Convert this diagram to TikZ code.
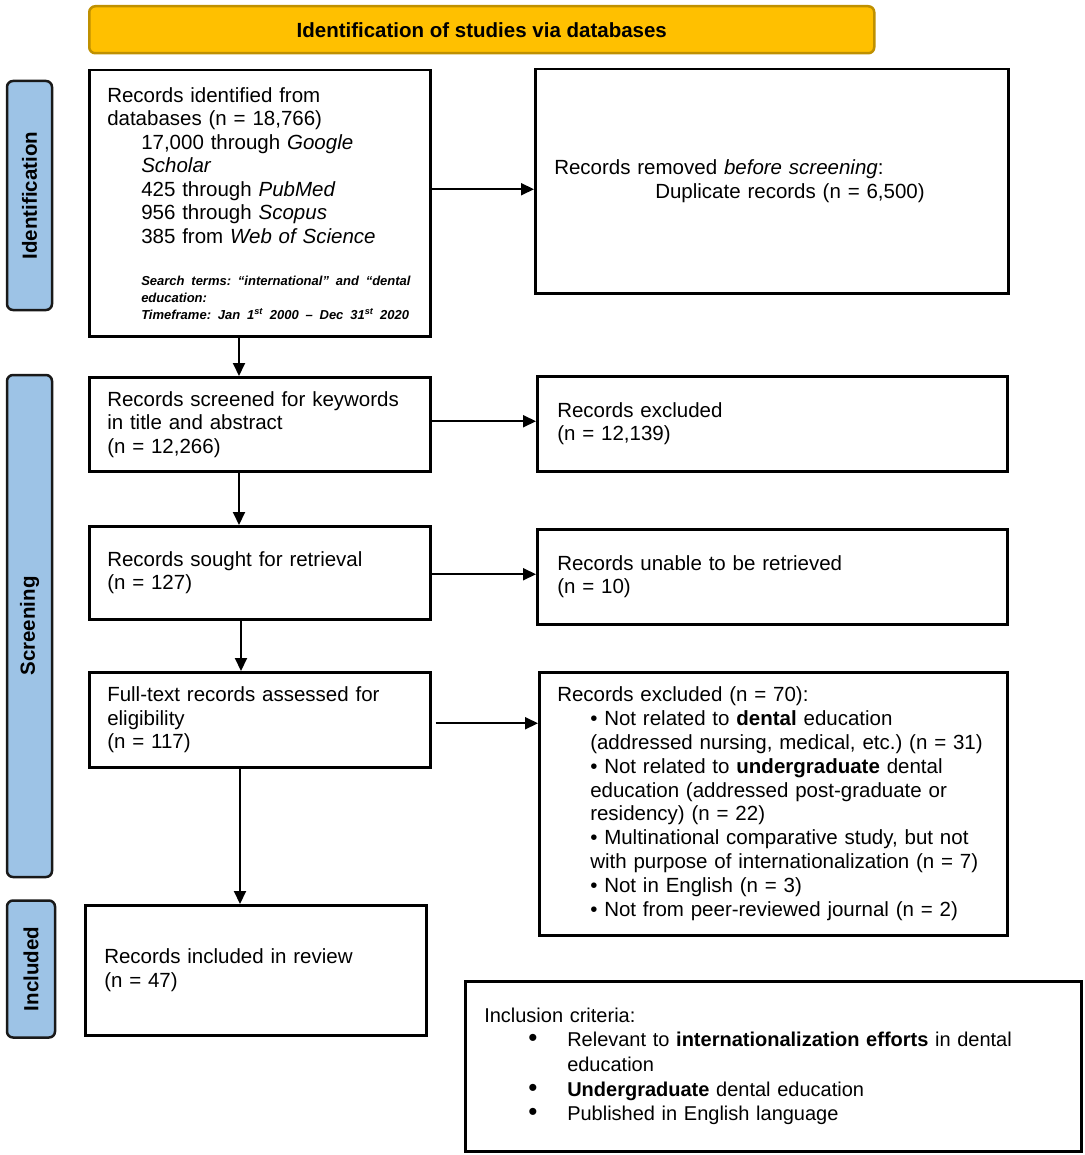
\documentclass[tikz,border=0pt]{standalone}
\usepackage{fontspec}
\setmainfont{Liberation Sans}
\usepackage{tikz}
\usetikzlibrary{arrows.meta, positioning}
\usepackage{xcolor}
\definecolor{bannergold}{HTML}{FFC000}
\definecolor{bannerline}{HTML}{BF9000}
\definecolor{phaseblue}{HTML}{9DC3E6}
\setlength{\parindent}{0pt}
\frenchspacing

\begin{document}
\begin{tikzpicture}[
    x=1pt, y=-1pt,
    box/.style={
        draw=black,
        fill=white,
        line width=2.5pt,
        align=left,
        anchor=north west,
        inner xsep=18pt,
        inner ysep=0pt,
        font=\fontsize{20.5}{23.5}\selectfont
    },
    phase/.style={
        draw=black!90,
        fill=phaseblue,
        rounded corners=6pt,
        line width=2.5pt,
        rotate=90,
        inner sep=0pt,
        font=\fontsize{20.5}{23.5}\selectfont\bfseries
    },
    banner/.style={
        draw=bannerline,
        fill=bannergold,
        rounded corners=6pt,
        line width=2.5pt,
        anchor=north west,
        inner sep=0pt,
        font=\fontsize{20.5}{23.5}\selectfont\bfseries
    },
    arrow/.style={
        -{Triangle[length=13pt, width=12pt]},
        line width=2pt,
        draw=black
    }
]
\useasboundingbox (0,0) rectangle (1084,1155);

% Header and phases
\node (head) [banner, minimum width=785pt, minimum height=47pt] at (88,5) {Identification of studies via databases};
\node (phid) [phase, minimum width=229pt, minimum height=45pt] at (29.5,195.5) {Identification};
\node (phscr) [phase, minimum width=502pt, minimum height=45pt] at (29.5,626) {Screening};
\node (phinc) [phase, minimum width=137pt, minimum height=48pt] at (31,969) {Included};

% Main column
\node (ident) [box, minimum width=341pt, minimum height=266pt, text width=305pt] at (88,69) {%
Records identified from\\
databases (n = 18,766)\par
{\leftskip=34pt
17,000 through \textit{Google}\\
\textit{Scholar}\\
425 through \textit{PubMed}\\
956 through \textit{Scopus}\\
385 from \textit{Web of Science}\par}
\vskip 25pt
{\leftskip=34pt\fontsize{13}{17}\selectfont\bfseries\itshape
\mbox{Search terms: “international” and “dental}\\
\mbox{education:}\\
\mbox{Timeframe: Jan 1\textsuperscript{st} 2000 – Dec 31\textsuperscript{st} 2020}\par}};
\node (screen) [box, minimum width=341pt, minimum height=94pt, text width=305pt] at (88,376) {%
Records screened for keywords\\
in title and abstract\\
(n = 12,266)};
\node (sought) [box, minimum width=341pt, minimum height=93pt, text width=305pt] at (88,525) {%
Records sought for retrieval\\
(n = 127)};
\node (full) [box, minimum width=341pt, minimum height=95pt, text width=305pt] at (88,671) {%
Full-text records assessed for\\
eligibility\\
(n = 117)};
\node (incl) [box, minimum width=341pt, minimum height=130pt, text width=303pt, inner xsep=19pt] at (84,904) {%
Records included in review\\
(n = 47)};

% Side column
\node (removed) [box, minimum width=473pt, minimum height=224pt, text width=435pt, inner xsep=19pt] at (534,68) {%
Records removed \textit{before screening}:\par
{\leftskip=101pt Duplicate records (n = 6,500)\par}};
\node (excl1) [box, minimum width=470pt, minimum height=95pt, text width=430pt, inner xsep=20pt] at (536,375) {%
Records excluded\\
(n = 12,139)};
\node (unable) [box, minimum width=470pt, minimum height=95pt, text width=430pt, inner xsep=20pt] at (536,528) {%
Records unable to be retrieved\\
(n = 10)};
\node (excl2) [box, minimum width=468pt, minimum height=263pt, text width=432pt, font=\fontsize{20.5}{23.8}\selectfont] at (538,671) {%
Records excluded (n = 70):\par
{\leftskip=33pt
• Not related to \textbf{dental} education\\
(addressed nursing, medical, etc.) (n = 31)\\
• Not related to \textbf{undergraduate} dental\\
education (addressed post-graduate or\\
residency) (n = 22)\\
• Multinational comparative study, but not\\
with purpose of internationalization (n = 7)\\
• Not in English (n = 3)\\
• Not from peer-reviewed journal (n = 2)\par}};
\node (crit) [box, minimum width=616pt, minimum height=170pt, text width=578pt, inner xsep=19pt, font=\fontsize{20}{24.6}\selectfont] at (464,980) {%
Inclusion criteria:\par
{\leftskip=83pt
\leavevmode\llap{\makebox[39pt][l]{\fontsize{26}{24}\selectfont •}}Relevant to \textbf{internationalization efforts} in dental\\
education\\
\leavevmode\llap{\makebox[39pt][l]{\fontsize{26}{24}\selectfont •}}\textbf{Undergraduate} dental education\\
\leavevmode\llap{\makebox[39pt][l]{\fontsize{26}{24}\selectfont •}}Published in English language\par}};

% Arrows
\draw [arrow] ([xshift=151pt]ident.south west) -- ([xshift=151pt]screen.north west);
\draw [arrow] ([xshift=151pt]screen.south west) -- ([xshift=151pt]sought.north west);
\draw [arrow] ([xshift=153pt]sought.south west) -- ([xshift=153pt]full.north west);
\draw [arrow] ([xshift=152pt]full.south west) -- ([xshift=156pt]incl.north west);
\draw [arrow] ([yshift=-8pt]removed.west -| ident.east) -- ([yshift=-8pt]removed.west);
\draw [arrow] ([yshift=2.5pt]excl1.west -| screen.east) -- ([yshift=2.5pt]excl1.west);
\draw [arrow] ([yshift=2.5pt]unable.west -| sought.east) -- ([yshift=2.5pt]unable.west);
\draw [arrow] ([xshift=4pt,yshift=-3.5pt]full.east) -- ([yshift=-3.5pt]full.east -| excl2.west);

\end{tikzpicture}
\end{document}
